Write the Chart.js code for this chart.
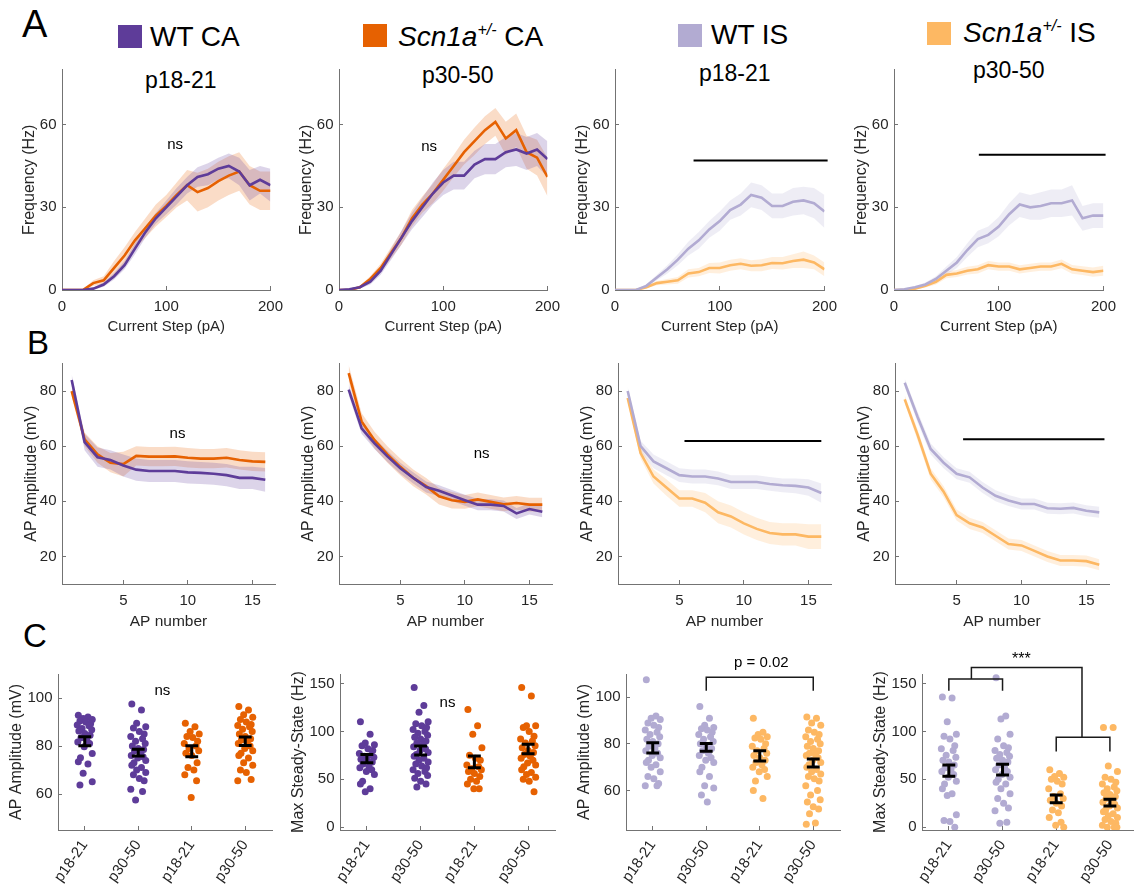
<!DOCTYPE html>
<html>
<head>
<meta charset="utf-8">
<script src="https://cdn.jsdelivr.net/npm/chart.js@4.4.0/dist/chart.umd.min.js"></script>
<style>
  body { margin: 0; background: #fff; width: 1136px; height: 884px; position: relative; overflow: hidden;
         font-family: "Liberation Sans", Arial, sans-serif; color: #000; }
  canvas { position: absolute; }
  .t { position: absolute; white-space: nowrap; line-height: 1; }
  .sq { position: absolute; width: 24px; height: 23px; }
  .leg { font-size: 28px; }
  .sub { font-size: 23px; }
  .sup { font-size: 16px; font-style: italic; position: relative; top: -11px; }
</style>
</head>
<body>
<div class="t" style="left:22px;top:5px;font-size:38px">A</div>
<div class="t" style="left:27px;top:326px;font-size:33px">B</div>
<div class="t" style="left:23px;top:619px;font-size:33px">C</div>

<div class="sq" style="left:118px;top:25px;background:#5e3c99"></div>
<div class="t leg" style="left:150px;top:23px">WT CA</div>
<div class="sq" style="left:363px;top:24px;background:#e66101"></div>
<div class="t leg" style="left:398px;top:23px"><i>Scn1a</i><span class="sup">+/-</span> CA</div>
<div class="sq" style="left:678px;top:24px;background:#b2abd2"></div>
<div class="t leg" style="left:711px;top:21px">WT IS</div>
<div class="sq" style="left:927px;top:22px;background:#fdb863"></div>
<div class="t leg" style="left:963px;top:19px"><i>Scn1a</i><span class="sup">+/-</span> IS</div>

<div class="t sub" style="left:145px;top:69px">p18-21</div>
<div class="t sub" style="left:422px;top:64px">p30-50</div>
<div class="t sub" style="left:699px;top:62px">p18-21</div>
<div class="t sub" style="left:973px;top:59px">p30-50</div>

<script>
// ---- data ----
const CURRENT_STEPS = [0, 10, 20, 30, 40, 50, 60, 70, 80, 90, 100, 110, 120, 130, 140, 150, 160, 170, 180, 190, 200];
const AP_NUMBERS = [1, 2, 3, 4, 5, 6, 7, 8, 9, 10, 11, 12, 13, 14, 15, 16];
const AGE_GROUPS = ["p18-21", "p30-50", "p18-21", "p30-50"];

// A: firing frequency (Hz) vs current step, mean and SEM
const wtCA_p18_freq = [0, 0, 0, 0.5, 2, 5, 9, 15, 21, 26, 30, 34, 38, 41, 42, 44, 45, 43, 38, 40, 38];
const wtCA_p18_freqSem = [0, 0, 0, 0.3, 0.8, 1.2, 1.5, 2, 2, 2, 2.5, 3, 3, 3.5, 4, 4, 4.5, 5, 5.5, 5, 6];
const mutCA_p18_freq = [0, 0, 0, 2.5, 3.5, 8, 12.5, 18, 22.5, 27, 30.5, 34.5, 38, 35.5, 37, 39.5, 41.5, 43, 38, 36, 36];
const mutCA_p18_freqSem = [0, 0, 0.3, 1, 1.5, 2.5, 3, 3, 3.5, 4, 4, 4.5, 5.5, 7, 7, 7, 7, 7, 7, 7, 7];

const wtCA_p30_freq = [0, 0.3, 1, 3, 7, 13, 19, 25, 30, 35, 39, 41.5, 41.5, 45.5, 47.5, 47.5, 50, 51, 49.5, 51, 47.5];
const wtCA_p30_freqSem = [0, 0.2, 0.5, 1, 1.5, 2, 2.5, 3, 3.5, 4, 4.5, 5, 5, 5, 5.5, 5.5, 5.5, 6, 6, 6, 6.5];
const mutCA_p30_freq = [0, 0, 1, 4, 8, 13.5, 19, 26, 31, 35, 40, 45, 50, 54, 58, 61, 55, 58, 50, 48, 41];
const mutCA_p30_freqSem = [0, 0, 0.5, 1, 1.5, 2, 2.5, 3, 3, 3.5, 4, 4, 4.5, 5, 5, 5, 6, 6, 6, 6.5, 7];

const wtIS_p18_freq = [0, 0, 0, 1.5, 4.5, 7.5, 11, 15, 18, 22, 25, 29, 31, 34.5, 33.5, 30.5, 30.5, 32, 32.5, 31.5, 28.5];
const wtIS_p18_freqSem = [0, 0, 0.2, 0.6, 1, 1.5, 2, 2.5, 3, 3, 3.5, 3.5, 4, 4.5, 4.5, 4.5, 4.5, 5, 5, 5.5, 6];
const mutIS_p18_freq = [0, 0, 0, 1, 2.5, 3, 3.5, 6, 6.5, 8, 8, 9, 9.5, 8.8, 9, 9.8, 9.7, 10.5, 11, 10, 7.5];
const mutIS_p18_freqSem = [0, 0, 0, 0.4, 0.8, 1, 1.2, 1.5, 1.5, 1.8, 2, 2, 2, 2, 2.2, 2.2, 2.3, 2.5, 3, 2.5, 2.5];

const wtIS_p30_freq = [0, 0.3, 1, 2, 4, 7, 10, 14.5, 18.5, 20, 23, 27.5, 31, 30, 30.5, 31.5, 31.5, 32.5, 26, 27, 27];
const wtIS_p30_freqSem = [0, 0.2, 0.4, 0.7, 1, 1.5, 2, 2.5, 3, 3, 3.5, 4, 4.5, 4.5, 5, 5, 5, 5.5, 4.5, 4.5, 4.5];
const mutIS_p30_freq = [0, 0, 0.5, 1.5, 3, 5.5, 6, 7, 7.5, 9, 8.5, 8.5, 7.5, 8, 8.5, 8.5, 9.5, 7.5, 7, 6.5, 7];
const mutIS_p30_freqSem = [0, 0, 0.3, 0.6, 1, 1.2, 1.3, 1.4, 1.5, 1.5, 1.5, 1.5, 1.5, 1.5, 1.5, 1.5, 1.6, 1.6, 1.6, 1.7, 1.8];

// B: AP amplitude (mV) vs AP number, mean and SEM
const wtCA_p18_amp = [84, 61.5, 56, 55, 53, 51.5, 51, 51, 51, 50.5, 50.3, 50, 49.5, 48.5, 48.5, 47.8];
const wtCA_p18_ampSem = [2, 3, 3.5, 3.5, 4, 4, 4, 4, 4, 4, 4, 4, 4, 4, 4, 4.3];
const mutCA_p18_amp = [80, 62.5, 57, 54, 53.5, 56.5, 56.2, 56.2, 56.3, 55.8, 55.5, 55.5, 55.8, 55, 54.5, 54.3];
const mutCA_p18_ampSem = [2, 2.5, 3, 3.5, 4.5, 3.5, 3.5, 3.5, 3.5, 3.5, 3.5, 3.5, 3.5, 3.5, 3.5, 3.5];

const wtCA_p30_amp = [80.5, 66.5, 61, 56.3, 52, 48.5, 45.2, 43.8, 42.1, 40.4, 38.8, 38.8, 38.3, 35.6, 37.2, 36.2];
const wtCA_p30_ampSem = [2, 2, 2, 2, 2, 2, 2, 2, 2, 2, 2, 2, 2, 2, 2, 2];
const mutCA_p30_amp = [86.5, 69, 62.2, 57, 52.5, 48.5, 45.5, 41.8, 40.4, 39.8, 40.7, 39.8, 38.9, 39.4, 38.8, 38.8];
const mutCA_p30_ampSem = [3, 3, 3, 3, 3, 3, 3, 3, 3, 2.5, 2.5, 2.5, 2.5, 2.5, 2.5, 2.5];

const wtIS_p18_amp = [80, 60, 54.5, 52, 49.5, 49, 49, 48.3, 47, 47, 47, 46.3, 45.8, 45.6, 45, 43];
const wtIS_p18_ampSem = [1.5, 2, 2.5, 2.5, 2.5, 2.5, 2.5, 2.5, 2.5, 2.5, 2.5, 2.5, 2.5, 2.7, 3, 3.5];
const mutIS_p18_amp = [77.5, 57.5, 49, 45, 41, 41, 39.5, 36, 34.5, 32, 30, 28.5, 28, 28, 27.2, 27.2];
const mutIS_p18_ampSem = [1.5, 2, 2.5, 3, 3, 3, 3.5, 4, 4, 4, 4, 4, 4, 4, 4.5, 4.5];

const wtIS_p30_amp = [83, 70.5, 59, 54, 50, 48.7, 45, 42, 40.3, 39, 39, 37.5, 37.3, 37.6, 36.6, 36];
const wtIS_p30_ampSem = [1.5, 2, 2, 2, 2, 2, 2, 2, 2, 2, 2, 2, 2, 2, 2, 2];
const mutIS_p30_amp = [77, 64, 50, 43.5, 35, 32, 30.5, 27.5, 24.5, 24, 22, 20, 18.5, 18.5, 18.3, 17];
const mutIS_p30_ampSem = [1.5, 2, 2, 2, 2, 2, 2, 2, 2, 2, 2, 2, 2, 2, 2, 2];

// C: single cells
const apCA_wt_p18 = [92.8, 92.1, 91.5, 91, 90.4, 90, 89.3, 88.8, 88.4, 87.3, 86.8, 86.3, 85.2, 84.5, 83.4, 82.4, 81.7, 81, 79.7, 76.9, 75.1, 73.4, 72.5, 68.6, 65.1, 63.7];
const apCA_wt_p30 = [97.5, 95, 89.5, 88, 87.5, 86, 85, 84, 83, 82, 81, 80, 79, 78.5, 78, 77, 76, 75.5, 75, 74, 73, 72, 71, 70, 69, 68, 66.5, 65.5, 62, 61, 57.5];
const apCA_mut_p18 = [89.5, 88, 86, 85, 84, 83.5, 82, 81, 80, 79, 78, 77, 76, 73, 71, 70, 68, 65.5, 58.5];
const apCA_mut_p30 = [96.5, 95, 93, 92, 91, 90, 89, 88.5, 88, 87, 86, 85, 84, 83, 82.5, 82, 81, 80, 79, 78, 77, 76, 75, 73, 72, 70, 69, 66, 65.5];
const apCA_mean = [82, 77.2, 77.8, 82];
const apCA_sem = [1.9, 1.4, 2.3, 1.8];

const ssCA_wt_p18 = [110, 97, 88, 86, 85, 82, 80, 77, 75, 74, 73, 71, 70, 68, 66, 63, 62, 60, 58, 55, 48, 45, 40, 37];
const ssCA_wt_p30 = [146, 127, 120, 110, 108, 106, 104, 102, 100, 98, 96, 94, 92, 90, 88, 86, 84, 82, 80, 78, 76, 74, 72, 70, 68, 66, 64, 62, 60, 58, 56, 54, 51, 48, 45, 42];
const ssCA_mut_p18 = [123, 106, 97, 83, 75, 72, 70, 65, 63, 61, 60, 58, 56, 53, 50, 48, 45, 40, 40];
const ssCA_mut_p30 = [146, 137, 106, 106, 104, 100, 95, 92, 90, 88, 85, 83, 80, 78, 76, 74, 72, 70, 67, 65, 63, 60, 57, 55, 52, 50, 48, 37];
const ssCA_mean = [71.6, 80, 68.2, 81.6];
const ssCA_sem = [4.4, 4.7, 6.1, 4.9];

const apIS_wt_p18 = [107.5, 92, 91, 90.5, 89, 88, 87, 86, 85, 84, 83, 82, 81, 80, 79, 78, 77, 76, 75, 74, 73, 72, 71, 70, 68, 66, 65, 63, 62, 62];
const apIS_wt_p30 = [96, 91, 88, 87, 86.5, 86, 85, 84, 83, 82, 81, 80, 79, 78, 77, 76, 75, 74, 73, 72, 70, 68, 66, 62, 61, 58, 55];
const apIS_mut_p18 = [91, 85, 84, 83, 82.5, 82, 80, 79, 78, 77, 76, 75, 74, 73, 72, 71, 70, 69, 68, 66, 64, 60, 56.5];
const apIS_mut_p30 = [91.5, 91, 89, 88, 86, 85, 84, 83, 82, 81, 80, 79, 78, 77, 76, 75.5, 75, 74, 73, 72, 71, 70, 69, 68, 67, 66, 65, 64, 62, 60, 58, 56, 55, 53, 52, 50, 46, 45.5];
const apIS_mean = [78.3, 78.5, 74.8, 71.8];
const apIS_sem = [2.2, 1.7, 2.2, 1.7];

const ssIS_wt_p18 = [136, 135, 110, 97, 95, 92, 85, 82, 80, 75, 73, 70, 68, 65, 62, 60, 58, 55, 52, 48, 45, 40, 35, 33, 13, 7, 6, 0];
const ssIS_wt_p30 = [156, 116, 113, 97, 92, 85, 83, 80, 78, 76, 74, 72, 70, 68, 65, 62, 60, 58, 55, 52, 50, 47, 45, 40, 35, 30, 25, 20, 17, 5, 4];
const ssIS_mut_p18 = [60, 56, 53, 52, 50, 48, 45, 40, 35, 32, 30, 28, 25, 22, 18, 15, 10, 5, 2, 0];
const ssIS_mut_p30 = [104, 104, 64, 58, 52, 50, 47, 45, 42, 40, 38, 36, 34, 32, 30, 28, 26, 24, 22, 20, 18, 16, 14, 12, 10, 8, 6, 4, 2, 0, 0, 0];
const ssIS_mean = [59, 60, 29.5, 25.5];
const ssIS_sem = [5.8, 5.6, 4, 3.5];

// significance marks, in data units
const sigBarA3 = [[75, 47], [203, 47]];
const sigBarA4 = [[81, 49.1], [202, 49.1]];
const sigBarB3 = [[5.4, 61.9], [16, 61.9]];
const sigBarB4 = [[5.5, 62.5], [16.4, 62.5]];
const bracketC3 = [[[2, 102.8], [2, 108.6], [4, 108.6], [4, 102.8]]];
const bracketC4 = [
  [[1, 142.6], [1, 154.8], [2, 154.8], [2, 142.6]],
  [[3, 79.1], [3, 93.8], [4, 93.8], [4, 79.1]],
  [[1.42, 154.8], [1.42, 166.9], [3.48, 166.9], [3.48, 93.8]]
];
// horizontal spread of the dots around each group (typed, cycled)
const JITTER = [-0.12, 0.06, -0.03, 0.14, -0.09, 0.02, 0.11, -0.14, 0.08, -0.05, 0.13, -0.11, 0.0, 0.1, -0.07, 0.04, -0.13, 0.09, -0.01, 0.14, -0.08];

// ---- styling ----
const COL = { wtCA: "#5e3c99", mutCA: "#e66101", wtIS: "#b2abd2", mutIS: "#fdb863" };
const FONT = '"Liberation Sans", Arial, sans-serif';
const INK = "#262626";
const AXIS = "#737373";

function rgba(hex, a) {
  const n = parseInt(hex.slice(1), 16);
  return `rgba(${n >> 16},${(n >> 8) & 255},${n & 255},${a})`;
}

// text written at data coordinates (ns, p values, stars)
Chart.register({
  id: "notes",
  afterDraw(chart, args, opts) {
    const { ctx, scales } = chart;
    (opts.items || []).forEach(n => {
      ctx.save();
      ctx.font = `${n.size || 15}px ${FONT}`;
      ctx.fillStyle = "#000";
      ctx.textAlign = "center";
      ctx.textBaseline = "middle";
      ctx.fillText(n.text, scales.x.getPixelForValue(n.x), scales.y.getPixelForValue(n.y));
      ctx.restore();
    });
  }
});

function makeCanvas(plot, yw, xh, padTop, padRight) {
  const c = document.createElement("canvas");
  const left = plot.left - yw, top = plot.top - padTop;
  const w = plot.right + padRight - left, h = plot.bottom + xh - top;
  c.width = w; c.height = h;
  c.style.left = left + "px"; c.style.top = top + "px";
  c.style.width = w + "px"; c.style.height = h + "px";
  document.body.appendChild(c);
  return c;
}

function axis(o) {
  return {
    type: "linear", min: o.min, max: o.max,
    afterBuildTicks: s => { s.ticks = o.ticks.map(v => ({ value: v })); },
    afterFit: s => { if (o.horizontal) s.height = o.size; else s.width = o.size; },
    border: { display: true, color: AXIS, width: 1 },
    grid: { drawOnChartArea: false, drawTicks: true, tickLength: -4, color: AXIS },
    ticks: {
      color: INK, font: { size: o.fontSize || 15, family: FONT }, padding: o.pad,
      autoSkip: false, minRotation: o.rotation || 0, maxRotation: o.rotation || 0,
      callback: o.labels ? (v => o.labels[v - 1]) : (v => String(v))
    },
    title: {
      display: !!o.title, text: o.title, color: INK,
      font: { size: o.titleSize || 16, family: FONT },
      padding: { top: o.titlePad || 0, bottom: o.titlePad || 0 }
    }
  };
}

function baseOptions(padTop, padRight, notes, xAxis, yAxis) {
  return {
    responsive: false, animation: false, events: [],
    layout: { padding: { top: padTop, right: padRight, left: 0, bottom: 0 } },
    plugins: { legend: { display: false }, tooltip: { enabled: false }, notes: { items: notes } },
    scales: { x: xAxis, y: yAxis }
  };
}

function curvePanel(plot, xs, wt, wtSem, mut, mutSem, wtCol, mutCol, xAxis, yAxis, sig, notes) {
  const canvas = makeCanvas(plot, 55, 48, 15, 20);
  const pts = (ys, sem, k) => xs.map((x, i) => ({ x, y: sem ? ys[i] + k * sem[i] : ys[i] }));
  const mean = (ys, col) => ({ data: pts(ys), borderColor: col, borderWidth: 2.6, pointRadius: 0, fill: false });
  const edge = (ys, sem, k, col) => ({
    data: pts(ys, sem, k), borderWidth: 0, pointRadius: 0,
    fill: k > 0 ? "+1" : false, backgroundColor: rgba(col, 0.22)
  });
  const datasets = [
    mean(wt, wtCol), mean(mut, mutCol),
    edge(wt, wtSem, 1, wtCol), edge(wt, wtSem, -1, wtCol),
    edge(mut, mutSem, 1, mutCol), edge(mut, mutSem, -1, mutCol)
  ];
  if (sig) datasets.unshift({ data: sig.map(([x, y]) => ({ x, y })), borderColor: "#000", borderWidth: 2, pointRadius: 0, clip: false });
  new Chart(canvas, { type: "line", data: { datasets }, options: baseOptions(15, 20, notes, xAxis, yAxis) });
}

function gapLine(segments) {
  const out = [];
  segments.forEach((seg, k) => {
    if (k) out.push({ x: seg[0][0], y: null });
    seg.forEach(([x, y]) => out.push({ x, y }));
  });
  return out;
}

function dotPanel(plot, xMax, groups, means, sems, cols, yAxis, brackets, notes) {
  const canvas = makeCanvas(plot, 52, 54, 34, 14);
  const cw = 0.12;
  const bars = [];
  means.forEach((m, i) => {
    const x = i + 1, hi = m + sems[i], lo = m - sems[i];
    bars.push([[x - cw, hi], [x + cw, hi]], [[x, hi], [x, lo]], [[x - cw, lo], [x + cw, lo]]);
  });
  const datasets = [
    { data: gapLine(bars), showLine: true, borderColor: "#000", borderWidth: 3, pointRadius: 0 }
  ];
  if (brackets) datasets.push({ data: gapLine(brackets), showLine: true, borderColor: "#1a1a1a", borderWidth: 1.5, pointRadius: 0, clip: false });
  groups.forEach((vals, g) => datasets.push({
    data: vals.map((v, i) => ({ x: g + 1 + JITTER[i % JITTER.length], y: v })),
    pointRadius: 3.5, pointBorderWidth: 0, pointBackgroundColor: cols[g], showLine: false
  }));
  const xAxis = axis({ horizontal: true, size: 54, min: 0.5, max: xMax, ticks: [1, 2, 3, 4], labels: AGE_GROUPS, rotation: 55, pad: 11 });
  new Chart(canvas, { type: "scatter", data: { datasets }, options: baseOptions(34, 14, notes, xAxis, yAxis) });
}

// ---- row A ----
const xCurrent = () => axis({ horizontal: true, size: 48, min: 0, max: 200, ticks: [0, 100, 200], pad: 12, title: "Current Step (pA)", titleSize: 15, titlePad: 2 });
const yFreq = () => axis({ size: 55, min: 0, max: 80, ticks: [0, 30, 60], pad: 9.5, title: "Frequency (Hz)", titlePad: 12.8 });
curvePanel({ left: 62, right: 275, top: 66, bottom: 290 }, CURRENT_STEPS, wtCA_p18_freq, wtCA_p18_freqSem, mutCA_p18_freq, mutCA_p18_freqSem,
  COL.wtCA, COL.mutCA, xCurrent(), yFreq(), null, [{ text: "ns", x: 108.5, y: 52.7 }]);
curvePanel({ left: 339, right: 552, top: 66, bottom: 290 }, CURRENT_STEPS, wtCA_p30_freq, wtCA_p30_freqSem, mutCA_p30_freq, mutCA_p30_freqSem,
  COL.wtCA, COL.mutCA, xCurrent(), yFreq(), null, [{ text: "ns", x: 86.4, y: 51.8 }]);
curvePanel({ left: 615, right: 829, top: 66, bottom: 290 }, CURRENT_STEPS, wtIS_p18_freq, wtIS_p18_freqSem, mutIS_p18_freq, mutIS_p18_freqSem,
  COL.wtIS, COL.mutIS, xCurrent(), yFreq(), sigBarA3, []);
curvePanel({ left: 894, right: 1108, top: 66, bottom: 290 }, CURRENT_STEPS, wtIS_p30_freq, wtIS_p30_freqSem, mutIS_p30_freq, mutIS_p30_freqSem,
  COL.wtIS, COL.mutIS, xCurrent(), yFreq(), sigBarA4, []);

// ---- row B ----
const xAP = () => axis({ horizontal: true, size: 48, min: 0.25, max: 16.75, ticks: [5, 10, 15], pad: 12, title: "AP number", titleSize: 15.5, titlePad: 1 });
const yAmp = () => axis({ size: 55, min: 10, max: 90, ticks: [20, 40, 60, 80], pad: 9.5, title: "AP Amplitude (mV)", titlePad: 14.8 });
curvePanel({ left: 62, right: 275, top: 360, bottom: 584 }, AP_NUMBERS, wtCA_p18_amp, wtCA_p18_ampSem, mutCA_p18_amp, mutCA_p18_ampSem,
  COL.wtCA, COL.mutCA, xAP(), yAmp(), null, [{ text: "ns", x: 9.2, y: 64.3 }]);
curvePanel({ left: 339, right: 552, top: 360, bottom: 584 }, AP_NUMBERS, wtCA_p30_amp, wtCA_p30_ampSem, mutCA_p30_amp, mutCA_p30_ampSem,
  COL.wtCA, COL.mutCA, xAP(), yAmp(), null, [{ text: "ns", x: 11.3, y: 57.2 }]);
curvePanel({ left: 618, right: 831, top: 360, bottom: 584 }, AP_NUMBERS, wtIS_p18_amp, wtIS_p18_ampSem, mutIS_p18_amp, mutIS_p18_ampSem,
  COL.wtIS, COL.mutIS, xAP(), yAmp(), sigBarB3, []);
curvePanel({ left: 895, right: 1109, top: 360, bottom: 584 }, AP_NUMBERS, wtIS_p30_amp, wtIS_p30_ampSem, mutIS_p30_amp, mutIS_p30_ampSem,
  COL.wtIS, COL.mutIS, xAP(), yAmp(), sigBarB4, []);

// ---- row C ----
const CA_COLS = [COL.wtCA, COL.wtCA, COL.mutCA, COL.mutCA];
const IS_COLS = [COL.wtIS, COL.wtIS, COL.mutIS, COL.mutIS];
const yApC = (min) => axis({ size: 52, min, max: 110, ticks: [60, 80, 100], pad: 9.5, title: "AP Amplitude (mV)", titlePad: 0.7 });
const ySsC = () => axis({ size: 52, min: -3, max: 160, ticks: [0, 50, 100, 150], pad: 9.5, title: "Max Steady-State (Hz)", titlePad: 0.7 });
dotPanel({ left: 58, right: 272, top: 674, bottom: 830 }, 4.5, [apCA_wt_p18, apCA_wt_p30, apCA_mut_p18, apCA_mut_p30], apCA_mean, apCA_sem, CA_COLS,
  yApC(45), null, [{ text: "ns", x: 2.45, y: 102.9 }]);
dotPanel({ left: 340, right: 555, top: 674, bottom: 830 }, 4.5, [ssCA_wt_p18, ssCA_wt_p30, ssCA_mut_p18, ssCA_mut_p30], ssCA_mean, ssCA_sem, CA_COLS,
  ySsC(), null, [{ text: "ns", x: 2.5, y: 130.3 }]);
dotPanel({ left: 626, right: 840, top: 674, bottom: 830 }, 4.5, [apIS_wt_p18, apIS_wt_p30, apIS_mut_p18, apIS_mut_p30], apIS_mean, apIS_sem, IS_COLS,
  yApC(43), bracketC3, [{ text: "p = 0.02", x: 3.03, y: 114.6 }]);
dotPanel({ left: 922, right: 1133, top: 674, bottom: 830 }, 4.43, [ssIS_wt_p18, ssIS_wt_p30, ssIS_mut_p18, ssIS_mut_p30], ssIS_mean, ssIS_sem, IS_COLS,
  ySsC(), bracketC4, [{ text: "***", x: 2.35, y: 175.3, size: 16 }]);
</script>
</body>
</html>
